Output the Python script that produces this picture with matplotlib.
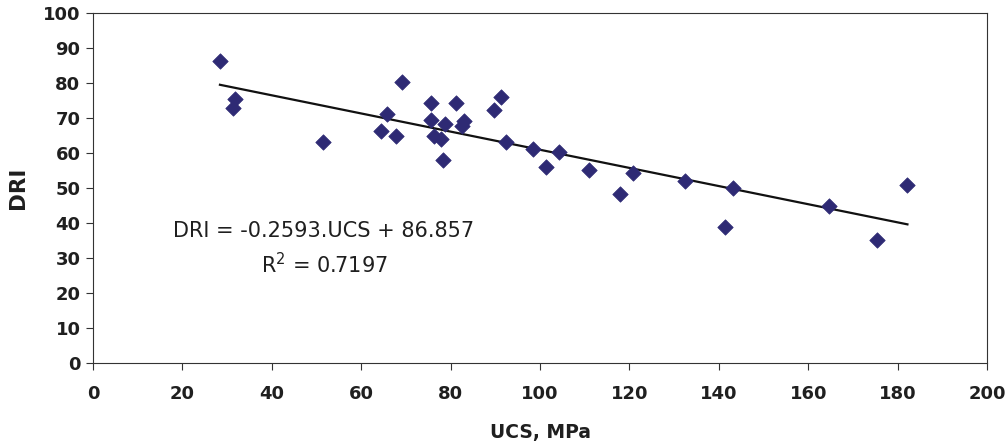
import matplotlib
matplotlib.use("Agg")
import matplotlib.pyplot as plt
import numpy as np

# Data
ucs = [28.4, 31.8, 31.4, 51.4, 64.5, 65.7, 67.8, 69.1, 75.7, 75.7, 76.3, 77.9,
       78.2, 78.8, 81.1, 82.6, 83.0, 89.6, 91.3, 92.5, 98.5, 101.3, 104.3,
       111.0, 117.9, 120.9, 132.4, 141.4, 143.1, 164.7, 175.5, 182.2]
dri = [86.3, 75.3, 73.0, 63.2, 66.3, 71.1, 64.9, 80.2, 74.2, 69.3, 64.9, 63.9,
       58.0, 68.3, 74.2, 67.8, 69.2, 72.3, 76.1, 63.2, 61.1, 56.1, 60.3,
       55.1, 48.3, 54.2, 52.0, 38.9, 50.0, 44.9, 35.1, 51.0]

slope = -0.2593
intercept = 86.857
r2 = 0.7197

xticks = list(range(0, 201, 20))
yticks = list(range(0, 101, 10))

txt_color = "#1f1f1f"
marker_color = "#2E2A74"

plt.rcParams["mathtext.default"] = "regular"

fig = plt.figure(figsize=(10.07, 4.47), dpi=100)
ax = fig.add_axes([93/1007, 1-363/447, (987-93)/1007, (363-13)/447])

ax.scatter(ucs, dri, marker="D", s=62, color=marker_color, edgecolors=marker_color,
           linewidths=0.5, zorder=3)

xl = np.array([min(ucs), max(ucs)])
ax.plot(xl, slope*xl + intercept, color="#111111", lw=1.6, zorder=2)

ax.set_xlim(0, 200)
ax.set_ylim(0, 100)
ax.set_xticks(xticks)
ax.set_yticks(yticks)

tick_font = dict(family="DejaVu Sans", weight="bold", size=13)
ax.set_xticklabels([str(t) for t in xticks], fontdict=tick_font, color=txt_color)
ax.set_yticklabels([str(t) for t in yticks], fontdict=tick_font, color=txt_color)
ax.tick_params(direction="out", length=5, width=0.8, color="#333333")
ax.tick_params(axis="x", pad=11)
ax.tick_params(axis="y", pad=4)

for s in ax.spines.values():
    s.set_color("#333333")
    s.set_linewidth(0.8)

ax.set_xlabel("UCS, MPa", family="DejaVu Sans", weight="bold", size=13.5,
              color=txt_color, labelpad=14)
ax.set_ylabel("DRI", family="DejaVu Sans", weight="bold", size=15.5,
              color=txt_color, labelpad=11)

ax.text(51.5, 37.7, f"DRI = {slope}.UCS + {intercept}", ha="center", va="center",
        family="DejaVu Sans", size=15, color=txt_color)
ax.text(51.8, 28.0, r"R$^{2}$ = " + f"{r2}", ha="center", va="center",
        family="DejaVu Sans", size=15, color=txt_color)

fig.savefig("out.png", dpi=100)
